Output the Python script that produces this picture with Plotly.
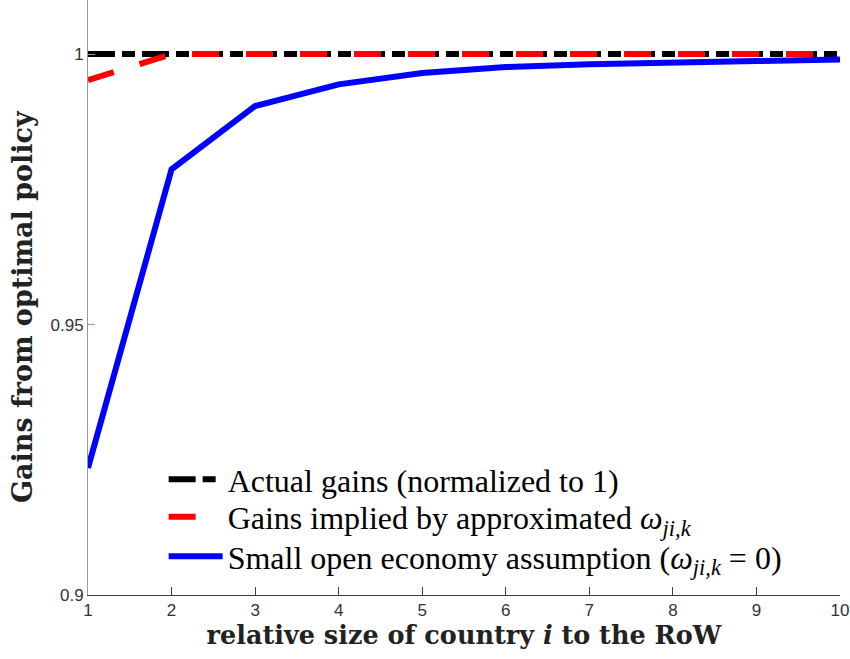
import plotly.graph_objects as go

size_ratio = [1, 2, 3, 4, 5, 6, 7, 8, 9, 10]
actual_gains = [1, 1, 1, 1, 1, 1, 1, 1, 1, 1]
approx_gains = [0.9952, 1.0, 1.0, 1.0, 1.0, 1.0, 1.0, 1.0, 1.0, 1.0]
small_open_gains = [0.9235, 0.9787, 0.9904, 0.9944, 0.9965, 0.9976, 0.9981, 0.9985, 0.9987, 0.9990]

y_ticks = [0.9, 0.95, 1]
y_tick_labels = ["0.9", "0.95", "1"]

fig = go.Figure()
fig.add_trace(go.Scatter(x=size_ratio, y=actual_gains, mode="lines",
                         name="Actual gains (normalized to 1)", legend="legend",
                         line=dict(color="black", width=6, dash="27px,7px,13px,7px")))
fig.add_trace(go.Scatter(x=size_ratio, y=approx_gains, mode="lines",
                         name="Gains implied by approximated <i>ω</i><sub><i>ji,k</i></sub>",
                         legend="legend2",
                         line=dict(color="#ff0000", width=6, dash="27px,27px")))
fig.add_trace(go.Scatter(x=size_ratio, y=small_open_gains, mode="lines",
                         name="Small open economy assumption (<i>ω</i><sub><i>ji,k</i></sub> = 0)",
                         legend="legend3",
                         line=dict(color="#0000ff", width=6)))

leg_common = dict(xanchor="left", yanchor="middle", bgcolor="rgba(0,0,0,0)",
                  itemwidth=54,
                  font=dict(family="Liberation Serif", size=32, color="black"))

fig.update_layout(
    width=850, height=659,
    margin=dict(l=88, r=10, t=0, b=64),
    paper_bgcolor="white", plot_bgcolor="white",
    showlegend=True,
    legend=dict(x=0.1006, y=0.194, **leg_common),
    legend2=dict(x=0.1006, y=0.131, **leg_common),
    legend3=dict(x=0.1006, y=0.065, **leg_common),
    xaxis=dict(range=[1, 10], tickvals=size_ratio, ticks="inside", ticklen=8,
               showline=True, linecolor="#404040", linewidth=1, tickcolor="#404040",
               showgrid=False, zeroline=False, automargin=False,
               tickfont=dict(family="Liberation Sans", size=17, color="#333333"),
               title=dict(text="<b>relative size of country <i>i</i> to the RoW</b>",
                          font=dict(family="DejaVu Serif", size=25.5, color="#222222"),
                          standoff=5)),
    yaxis=dict(range=[0.9, 1.01], tickvals=y_ticks, ticktext=y_tick_labels,
               ticks="inside", ticklen=7,
               showline=True, linecolor="#999999", linewidth=1, tickcolor="#999999",
               showgrid=False, zeroline=False, automargin=False,
               tickfont=dict(family="Liberation Sans", size=17, color="#333333")),
    annotations=[dict(text="<b>Gains from optimal policy</b>", textangle=-90,
                      xref="paper", yref="paper", x=-0.0878, y=0.4857,
                      xanchor="center", yanchor="middle", showarrow=False,
                      font=dict(family="DejaVu Serif", size=27, color="#222222"))],
)

fig.write_html("out.html", config={"displayModeBar": False},
               post_script="document.body.style.margin='0px';document.body.style.padding='0px';")
